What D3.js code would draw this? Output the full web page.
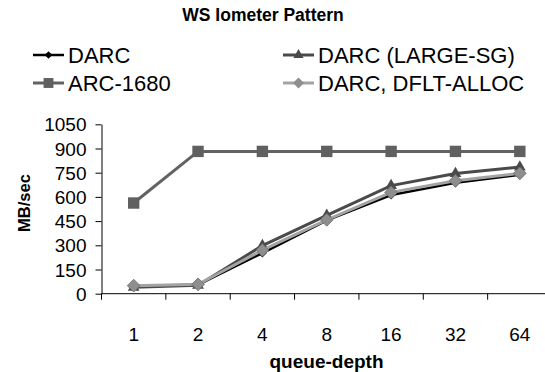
<!DOCTYPE html>
<html>
<head>
<meta charset="utf-8">
<script src="https://d3js.org/d3.v7.min.js"></script>
<style>
  body { margin: 0; background: #fff; }
  svg { display: block; font-family: "Liberation Sans", Arial, sans-serif; }
</style>
</head>
<body>
<svg id="chart" width="545" height="372"></svg>
<script>
// data
const depths = ["1", "2", "4", "8", "16", "32", "64"];
const yTicks = [0, 150, 300, 450, 600, 750, 900, 1050];
const darc = [45, 55, 252, 455, 612, 688, 738];
const darcLargeSg = [40, 52, 298, 486, 670, 745, 785];
const arc1680 = [562, 882, 882, 882, 882, 882, 882];
const darcDfltAlloc = [50, 58, 270, 458, 628, 700, 746];

const seriesNames = ["DARC", "DARC (LARGE-SG)", "ARC-1680", "DARC, DFLT-ALLOC"];
const seriesValues = [darc, darcLargeSg, arc1680, darcDfltAlloc];
// diamonds = squares turned 45 degrees
const seriesStyle = [
  { color: "#000000", fill: "#000000", marker: d3.symbolSquare, rot: 45, size: 40, width: 2.5 },
  { color: "#4a4a4a", fill: "#4a4a4a", marker: d3.symbolTriangle, rot: 0, size: 60, width: 3 },
  { color: "#626262", fill: "#606060", marker: d3.symbolSquare, rot: 0, size: 130, width: 3 },
  { color: "#a3a3a3", fill: "#8e8e8e", marker: d3.symbolSquare, rot: 45, size: 82, width: 3 }
];

const svg = d3.select("#chart");
const plotLeft = 101.5, plotRight = 552, plotTop = 124.3, plotBottom = 293.7;

const x = d3.scaleBand().domain(depths).range([plotLeft, plotRight]);
const y = d3.scaleLinear().domain([0, 1050]).range([plotBottom, plotTop]);

// title
svg.append("text")
  .attr("x", 263).attr("y", 21)
  .attr("text-anchor", "middle")
  .style("font-weight", "bold").style("font-size", "17.5px")
  .text("WS Iometer Pattern");

// y axis
const yAxis = svg.append("g")
  .attr("transform", `translate(${plotLeft},0)`)
  .call(d3.axisLeft(y).tickValues(yTicks).tickFormat(d3.format("d"))
    .tickSize(6).tickSizeOuter(0).tickPadding(9));
yAxis.selectAll("text").style("font-size", "19px").attr("fill", "#000").attr("dy", "0.35em");
yAxis.selectAll("line, path").attr("stroke", "#000");

// x axis
svg.append("line")
  .attr("x1", plotLeft).attr("x2", plotRight)
  .attr("y1", plotBottom).attr("y2", plotBottom)
  .attr("stroke", "#000");
svg.append("g").selectAll("line")
  .data(depths)
  .join("line")
  .attr("x1", d => x(d)).attr("x2", d => x(d))
  .attr("y1", plotBottom).attr("y2", plotBottom + 6)
  .attr("stroke", "#000");
svg.append("g").selectAll("text")
  .data(depths)
  .join("text")
  .attr("x", d => x(d) + x.bandwidth() / 2)
  .attr("y", 341)
  .attr("text-anchor", "middle")
  .style("font-size", "19px")
  .text(d => d);

// axis titles
svg.append("text")
  .attr("x", 326.5).attr("y", 368)
  .attr("text-anchor", "middle")
  .style("font-weight", "bold").style("font-size", "19px")
  .text("queue-depth");
svg.append("text")
  .attr("transform", "translate(30,203) rotate(-90)")
  .attr("text-anchor", "middle")
  .style("font-weight", "bold").style("font-size", "16.5px")
  .text("MB/sec");

// series
const line = d3.line()
  .x((d, i) => x(depths[i]) + x.bandwidth() / 2)
  .y(d => y(d));

seriesValues.forEach((vals, s) => {
  const st = seriesStyle[s];
  const g = svg.append("g");
  g.append("path")
    .attr("d", line(vals))
    .attr("fill", "none")
    .attr("stroke", st.color)
    .attr("stroke-width", st.width);
  g.selectAll("path.m")
    .data(vals)
    .join("path")
    .attr("class", "m")
    .attr("d", d3.symbol().type(st.marker).size(st.size))
    .attr("transform", (d, i) => `translate(${x(depths[i]) + x.bandwidth() / 2},${y(d)}) rotate(${st.rot})`)
    .attr("fill", st.fill)
    .attr("stroke", s === 3 ? "#6e6e6e" : "none")
    .attr("stroke-width", 0.8);
});

// legend
const legendPos = [
  { x: 33, y: 55 }, { x: 283, y: 55 },
  { x: 33, y: 83 }, { x: 283, y: 83 }
];
seriesNames.forEach((name, s) => {
  const st = seriesStyle[s];
  const p = legendPos[s];
  const g = svg.append("g").attr("transform", `translate(${p.x},${p.y})`);
  g.append("line").attr("x1", 0).attr("x2", 31).attr("y1", 0).attr("y2", 0)
    .attr("stroke", st.color).attr("stroke-width", st.width);
  g.append("path")
    .attr("d", d3.symbol().type(st.marker).size(st.size * 0.75))
    .attr("transform", `translate(15.5,0) rotate(${st.rot})`)
    .attr("fill", st.fill);
  g.append("text")
    .attr("x", 35).attr("y", 0).attr("dy", "0.36em")
    .style("font-size", "22px")
    .text(name);
});
</script>
</body>
</html>
